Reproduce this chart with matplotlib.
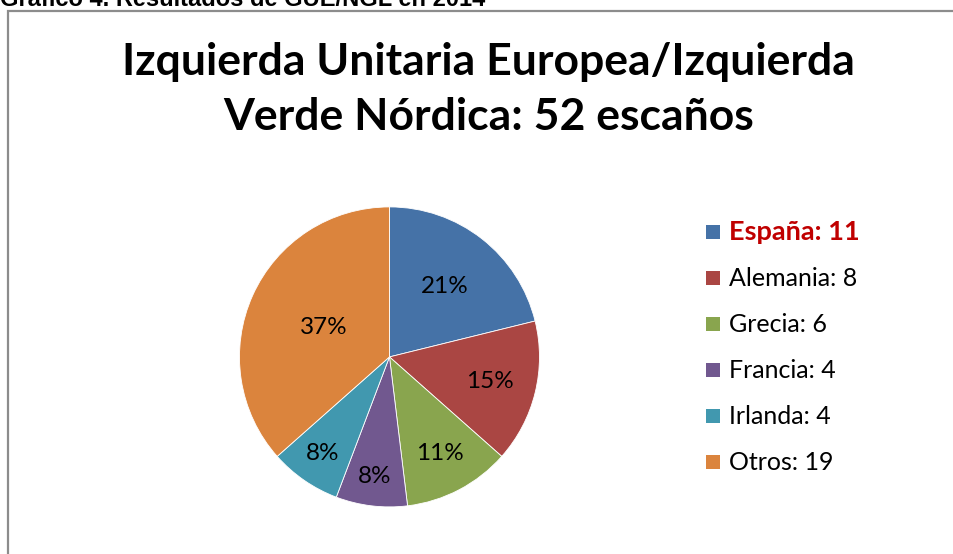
import matplotlib
matplotlib.use("Agg")
import matplotlib.pyplot as plt
import numpy as np
from matplotlib.patches import Rectangle

# datos
paises = ["España", "Alemania", "Grecia", "Francia", "Irlanda", "Otros"]
escanos = [11, 8, 6, 4, 4, 19]
etiquetas_pct = ["21%", "15%", "11%", "8%", "8%", "37%"]
colores = ["#4572A7", "#AA4643", "#89A54E", "#71588F", "#4198AF", "#DB843D"]
dist_pct = [0.60, 0.69, 0.73, 0.80, 0.78, 0.48]

titulo = ["Izquierda Unitaria Europea/Izquierda", "Verde Nórdica: 52 escaños"]
cabecera = "Gráfico 4. Resultados de GUE/NGL en 2014"

fuente = ["Lato", "DejaVu Sans"]

fig = plt.figure(figsize=(9.54, 5.54), dpi=100)

# marco gris
fig.patches.append(Rectangle((8.5 / 954, -0.1), 1.1, (554 - 11) / 554 + 0.1,
                             transform=fig.transFigure, fill=False,
                             edgecolor="#8c8c8c", linewidth=1.6))

fig.text(0.0, 1 - 6 / 554, cabecera, fontsize=17, fontweight="bold",
         family="Liberation Sans", va="baseline", ha="left")

for linea, base in zip(titulo, [75, 130]):
    fig.text(0.512, 1 - base / 554, linea, fontsize=32, fontweight="bold",
             family=fuente, ha="center", va="baseline")

ax = fig.add_axes([0.251, 0.085, 0.3145, 0.5415])
wedges, _ = ax.pie(escanos, colors=colores, startangle=90, counterclock=False,
                   wedgeprops=dict(edgecolor="white", linewidth=0.6))
ax.set_xlim(-1, 1)
ax.set_ylim(-1, 1)
ax.set_aspect("equal")

for w, t, d in zip(wedges, etiquetas_pct, dist_pct):
    ang = np.deg2rad((w.theta1 + w.theta2) / 2)
    ax.text(d * np.cos(ang), d * np.sin(ang), t,
            ha="center", va="center", fontsize=17.5, family=fuente)

# leyenda
for i, (p, v, c) in enumerate(zip(paises, escanos, colores)):
    y = 1 - (232 + 46 * i) / 554
    fig.patches.append(Rectangle((706 / 954, y - 7 / 554), 14 / 954, 14 / 554,
                                 transform=fig.transFigure, facecolor=c,
                                 edgecolor="none"))
    if i == 0:
        fig.text(729 / 954, y, "%s: %d" % (p, v), fontsize=19.5, fontweight="bold",
                 color="#C00000", family=fuente, va="center")
    else:
        fig.text(729 / 954, y, "%s: %d" % (p, v), fontsize=18,
                 family=fuente, va="center")

fig.savefig("out.png", dpi=100)
